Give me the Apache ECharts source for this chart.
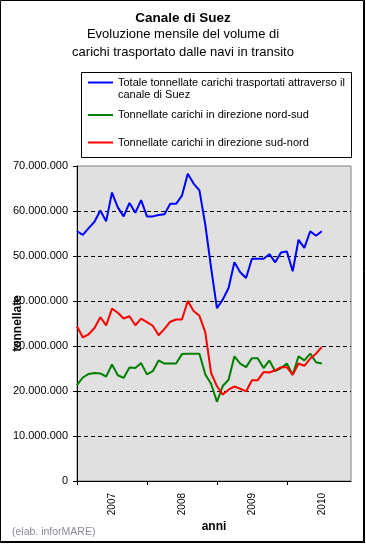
<!DOCTYPE html>
<html>
<head>
<meta charset="utf-8">
<script src="https://cdn.jsdelivr.net/npm/echarts@6/dist/echarts.min.js"></script>
<style>
html,body{margin:0;padding:0;background:#fff;}
#chart{width:366px;height:544px;}
</style>
</head>
<body>
<div id="chart"></div>
<script>
// Years (tick labels) and months (categories): Jan 2007 .. Dec 2010
const years = ['2007', '2008', '2009', '2010'];
const monthCodes = ['01','02','03','04','05','06','07','08','09','10','11','12'];

// Values in millions of tonnes, monthly from Jan 2007
const totale = [55.5, 54.7, 56.2, 57.6, 60.1, 57.7, 64.1, 60.8, 58.8, 61.8,
                59.6, 62.4, 58.8, 58.8, 59.1, 59.3, 61.6, 61.6, 63.4, 68.3,
                66.1, 64.6, 57.0, 47.4, 38.4, 40.3, 42.9, 48.6, 46.4, 45.1,
                49.4, 49.4, 49.4, 50.4, 48.6, 50.8, 51.0, 46.6, 53.6, 51.8,
                55.5, 54.5, 55.5];
const nordSud = [21.3, 23.0, 23.8, 24.0, 23.9, 23.2, 25.9, 23.5, 22.9, 25.2,
                 25.1, 26.2, 23.7, 24.4, 26.8, 26.1, 26.1, 26.1, 28.2, 28.3,
                 28.3, 28.3, 23.7, 21.6, 17.6, 21.1, 22.5, 27.7, 26.1, 25.3,
                 27.3, 27.3, 25.1, 26.8, 24.4, 25.1, 26.1, 23.6, 27.7, 26.8,
                 28.3, 26.4, 26.1];
const sudNord = [34.4, 31.9, 32.6, 34.0, 36.4, 34.6, 38.3, 37.4, 36.1, 36.6,
                 34.6, 36.1, 35.3, 34.5, 32.4, 33.8, 35.4, 35.9, 35.9, 40.0,
                 37.8, 36.7, 33.1, 24.0, 21.1, 19.2, 20.3, 21.0, 20.5, 19.9,
                 22.4, 22.4, 24.2, 24.1, 24.6, 25.3, 25.3, 23.6, 26.1, 25.6,
                 27.2, 28.3, 29.8];

const seriesNames = [
  'Totale tonnellate carichi trasportati attraverso il canale di Suez',
  'Tonnellate carichi in direzione nord-sud',
  'Tonnellate carichi in direzione sud-nord'
];

const categories = [];
years.forEach(y => monthCodes.forEach(m => categories.push(y + '-' + m)));

const MIL = 1000000;
const toT = arr => arr.map(v => v * MIL);
const FONT = '"Liberation Sans", Arial, sans-serif';

const fmt = v => String(Math.round(v)).replace(/\B(?=(\d{3})+(?!\d))/g, '.');

const chart = echarts.init(document.getElementById('chart'), null, {renderer: 'canvas'});

function legendFor(i, top) {
  return {
    data: [seriesNames[i]],
    left: 88, top: top, padding: 0,
    icon: 'rect', itemWidth: 25, itemHeight: 2,
    selectedMode: false,
    formatter: i === 0 ? () => 'Totale tonnellate carichi trasportati attraverso il' : undefined,
    textStyle: {fontFamily: FONT, fontSize: 11, lineHeight: 14, color: '#000'}
  };
}

const option = {
  animation: false,
  backgroundColor: '#fff',
  title: {
    text: 'Canale di Suez',
    subtext: 'Evoluzione mensile del volume di\ncarichi trasportato dalle navi in transito',
    left: 'center', top: 10, padding: 0, itemGap: -1,
    textStyle: {fontFamily: FONT, fontSize: 13.5, fontWeight: 'bold', color: '#000', lineHeight: 16},
    subtextStyle: {fontFamily: FONT, fontSize: 13, color: '#000', lineHeight: 18}
  },
  legend: [legendFor(0, 75.5), legendFor(1, 108), legendFor(2, 135.5)],
  grid: {
    left: 77, top: 166, width: 274, height: 315,
    show: true, backgroundColor: '#e0e0e0', borderColor: '#808080', borderWidth: 1
  },
  xAxis: {
    type: 'category',
    data: categories,
    boundaryGap: false,
    name: 'anni',
    nameLocation: 'middle',
    nameGap: 40,
    nameMoveOverlap: false,
    nameTextStyle: {fontFamily: FONT, fontSize: 12, fontWeight: 'bold', color: '#000'},
    axisLine: {lineStyle: {color: '#000', width: 1}},
    axisTick: {show: true, length: 4, interval: (idx) => idx % 12 === 0, lineStyle: {color: '#000'}},
    axisLabel: {
      interval: (idx) => idx % 12 === 6,
      formatter: (v) => v.slice(0, 4),
      rotate: 90, margin: 12,
      fontFamily: FONT, fontSize: 10, color: '#000'
    },
    splitLine: {show: false}
  },
  yAxis: {
    type: 'value',
    min: 0, max: 70 * MIL, interval: 10 * MIL,
    name: 'tonnellate',
    nameLocation: 'middle',
    nameGap: 53,
    nameMoveOverlap: false,
    nameTextStyle: {fontFamily: FONT, fontSize: 12, fontWeight: 'bold', color: '#000'},
    axisLine: {show: true, lineStyle: {color: '#000', width: 1}},
    axisTick: {show: true, length: 4, lineStyle: {color: '#000'}},
    axisLabel: {formatter: fmt, margin: 9, fontFamily: FONT, fontSize: 11, color: '#000'},
    splitLine: {show: true, showMinLine: false, showMaxLine: false,
                lineStyle: {color: '#000', width: 1, type: [4, 3]}}
  },
  series: [
    {name: seriesNames[0], type: 'line', data: toT(totale), symbol: 'none',
     color: '#0000ff', lineStyle: {width: 2, color: '#0000ff'}, z: 4},
    {name: seriesNames[1], type: 'line', data: toT(nordSud), symbol: 'none',
     color: '#008000', lineStyle: {width: 2, color: '#008000'}, z: 2},
    {name: seriesNames[2], type: 'line', data: toT(sudNord), symbol: 'none',
     color: '#ff0000', lineStyle: {width: 2, color: '#ff0000'}, z: 3}
  ],
  graphic: [
    {type: 'rect', shape: {x: 0.5, y: 0.5, width: 363, height: 541},
     style: {fill: null, stroke: '#000', lineWidth: 1}, silent: true},
    {type: 'line', shape: {x1: 364.5, y1: 0, x2: 364.5, y2: 543}, style: {stroke: '#000', lineWidth: 1}, silent: true},
    {type: 'line', shape: {x1: 0, y1: 542.5, x2: 365, y2: 542.5}, style: {stroke: '#000', lineWidth: 1}, silent: true},
    {type: 'rect', shape: {x: 81.5, y: 72.5, width: 270, height: 85},
     style: {fill: null, stroke: '#000', lineWidth: 1}, silent: true, z: -1},
    {type: 'text', left: 118, top: 89,
     style: {text: 'canale di Suez', font: '11px ' + FONT, fill: '#000'}, silent: true},
    {type: 'text', left: 12, top: 527,
     style: {text: '(elab. inforMARE)', font: '10.5px ' + FONT, fill: '#8a8a9e'}, silent: true}
  ]
};

chart.setOption(option);
</script>
</body>
</html>
